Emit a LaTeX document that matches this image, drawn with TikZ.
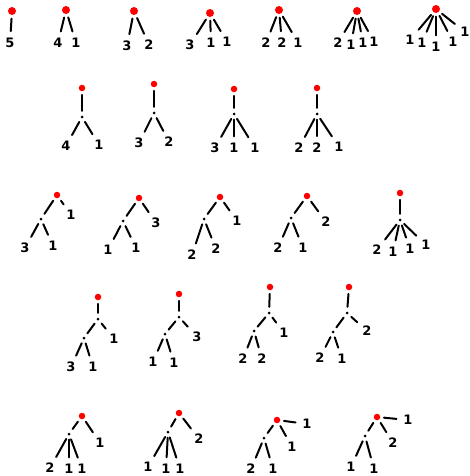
\documentclass[tikz,border=0pt]{standalone}
\usepackage{fontspec}
\newfontfamily\digitfont{DejaVu Sans}
\begin{document}
\begin{tikzpicture}[x=1pt,y=-1pt,
  rdot/.style={circle,fill=red,inner sep=0pt,minimum size=6.5pt},
  rdotbig/.style={rdot,minimum size=8pt},
  bdot/.style={circle,fill=black,inner sep=0pt,minimum size=3pt},
  lab/.style={inner sep=0.3pt,font=\digitfont\bfseries\fontsize{13}{13}\selectfont},
  edge/.style={line width=2pt,line cap=round},
  rl/.style={edge,shorten <=3.5pt,shorten >=6.5pt},
  rb/.style={edge,shorten <=3.5pt,shorten >=4.5pt},
  bl/.style={edge,shorten <=4pt,shorten >=6.5pt},
  bb/.style={edge,shorten <=4pt,shorten >=4pt}]
\useasboundingbox (0,0) rectangle (469,476);
% ---------- row 1 ----------
\node[rdotbig] (r1) at (12,11) {};
\node[lab] (t1a) at (10,43) {5};
\draw[rl] (r1) -- (t1a);
\node[rdotbig] (r2) at (66,10) {};
\node[lab] (t2a) at (58,43) {4};
\node[lab] (t2b) at (76,43) {1};
\draw[rl] (r2) -- (t2a); \draw[rl] (r2) -- (t2b);
\node[rdotbig] (r3) at (134,11) {};
\node[lab] (t3a) at (127,46) {3};
\node[lab] (t3b) at (149,45) {2};
\draw[rl] (r3) -- (t3a); \draw[rl] (r3) -- (t3b);
\node[rdotbig] (r4) at (210,13) {};
\node[lab] (t4a) at (190,45) {3};
\node[lab] (t4b) at (211,43) {1};
\node[lab] (t4c) at (227,42) {1};
\draw[rl] (r4) -- (t4a); \draw[rl] (r4) -- (t4b); \draw[rl] (r4) -- (t4c);
\node[rdotbig] (r5) at (279,10) {};
\node[lab] (t5a) at (266,43) {2};
\node[lab] (t5b) at (282,43) {2};
\node[lab] (t5c) at (298,43) {1};
\draw[rl] (r5) -- (t5a); \draw[rl] (r5) -- (t5b); \draw[rl] (r5) -- (t5c);
\node[rdotbig] (r6) at (357,11) {};
\node[lab] (t6a) at (338,43) {2};
\node[lab] (t6b) at (351,45) {1};
\node[lab] (t6c) at (363,43) {1};
\node[lab] (t6d) at (374,42) {1};
\draw[rl] (r6) -- (t6a); \draw[rl] (r6) -- (t6b); \draw[rl] (r6) -- (t6c); \draw[rl] (r6) -- (t6d);
\node[rdotbig] (r7) at (436,9) {};
\node[lab] (t7a) at (410,40) {1};
\node[lab] (t7b) at (422,43) {1};
\node[lab] (t7c) at (436,47) {1};
\node[lab] (t7d) at (453,42) {1};
\node[lab] (t7e) at (465,32) {1};
\draw[rl] (r7) -- (t7a); \draw[rl] (r7) -- (t7b); \draw[rl] (r7) -- (t7c);
\draw[rl] (r7) -- (t7d); \draw[rl] (r7) -- (t7e);
% ---------- row 2 ----------
\node[rdot] (r8) at (82,88) {};
\node[bdot] (b8) at (82,117) {};
\node[lab] (t8a) at (66,146) {4};
\node[lab] (t8b) at (99,145) {1};
\draw[rb] (r8) -- (b8); \draw[bl] (b8) -- (t8a); \draw[bl] (b8) -- (t8b);
\node[rdot] (r9) at (154,84) {};
\node[bdot] (b9) at (154,113) {};
\node[lab] (t9a) at (139,143) {3};
\node[lab] (t9b) at (169,142) {2};
\draw[rb] (r9) -- (b9); \draw[bl] (b9) -- (t9a); \draw[bl] (b9) -- (t9b);
\node[rdot] (r10) at (234,89) {};
\node[bdot] (b10) at (234,114) {};
\node[lab] (t10a) at (215,148) {3};
\node[lab] (t10b) at (234,148) {1};
\node[lab] (t10c) at (255,148) {1};
\draw[rb] (r10) -- (b10); \draw[bl] (b10) -- (t10a); \draw[bl] (b10) -- (t10b); \draw[bl] (b10) -- (t10c);
\node[rdot] (r11) at (317,88) {};
\node[bdot] (b11) at (317,114) {};
\node[lab] (t11a) at (299,148) {2};
\node[lab] (t11b) at (317,148) {2};
\node[lab] (t11c) at (339,147) {1};
\draw[rb] (r11) -- (b11); \draw[bl] (b11) -- (t11a); \draw[bl] (b11) -- (t11b); \draw[bl] (b11) -- (t11c);
% ---------- row 3 ----------
\node[rdot] (r12) at (57,195) {};
\node[bdot] (b12) at (41,219) {};
\node[lab] (t12a) at (71,215) {1};
\node[lab] (t12b) at (25,248) {3};
\node[lab] (t12c) at (53,246) {1};
\draw[rb] (r12) -- (b12); \draw[rl] (r12) -- (t12a); \draw[bl] (b12) -- (t12b); \draw[bl] (b12) -- (t12c);
\node[rdot] (r13) at (139,198) {};
\node[bdot] (b13) at (123,221) {};
\node[lab] (t13a) at (156,223) {3};
\node[lab] (t13b) at (108,250) {1};
\node[lab] (t13c) at (136,248) {1};
\draw[rb] (r13) -- (b13); \draw[rl] (r13) -- (t13a); \draw[bl] (b13) -- (t13b); \draw[bl] (b13) -- (t13c);
\node[rdot] (r14) at (220,197) {};
\node[bdot] (b14) at (204,219) {};
\node[lab] (t14a) at (237,221) {1};
\node[lab] (t14b) at (192,255) {2};
\node[lab] (t14c) at (216,249) {2};
\draw[rb] (r14) -- (b14); \draw[rl] (r14) -- (t14a); \draw[bl] (b14) -- (t14b); \draw[bl] (b14) -- (t14c);
\node[rdot] (r15) at (307,196) {};
\node[bdot] (b15) at (291,218) {};
\node[lab] (t15a) at (326,222) {2};
\node[lab] (t15b) at (278,248) {2};
\node[lab] (t15c) at (303,248) {1};
\draw[rb] (r15) -- (b15); \draw[rl] (r15) -- (t15a); \draw[bl] (b15) -- (t15b); \draw[bl] (b15) -- (t15c);
\node[rdot] (r16) at (400,193) {};
\node[bdot] (b16) at (400,220) {};
\node[lab] (t16a) at (377,250) {2};
\node[lab] (t16b) at (393,252) {1};
\node[lab] (t16c) at (410,249) {1};
\node[lab] (t16d) at (426,245) {1};
\draw[rb] (r16) -- (b16); \draw[bl] (b16) -- (t16a); \draw[bl] (b16) -- (t16b);
\draw[bl] (b16) -- (t16c); \draw[bl] (b16) -- (t16d);
% ---------- row 4 ----------
\node[rdot] (r17) at (98,297) {};
\node[bdot] (b17a) at (98,319) {};
\node[bdot] (b17b) at (84,338) {};
\node[lab] (t17a) at (114,339) {1};
\node[lab] (t17b) at (71,367) {3};
\node[lab] (t17c) at (93,367) {1};
\draw[rb] (r17) -- (b17a); \draw[bb] (b17a) -- (b17b);
\draw[bl] (b17a) -- (t17a); \draw[bl] (b17b) -- (t17b); \draw[bl] (b17b) -- (t17c);
\node[rdot] (r18) at (179,294) {};
\node[bdot] (b18a) at (179,317) {};
\node[bdot] (b18b) at (165,334) {};
\node[lab] (t18a) at (197,337) {3};
\node[lab] (t18b) at (153,362) {1};
\node[lab] (t18c) at (174,363) {1};
\draw[rb] (r18) -- (b18a); \draw[bb] (b18a) -- (b18b);
\draw[bl] (b18a) -- (t18a); \draw[bl] (b18b) -- (t18b); \draw[bl] (b18b) -- (t18c);
\node[rdot] (r19) at (270,287) {};
\node[bdot] (b19a) at (269,313) {};
\node[bdot] (b19b) at (254,331) {};
\node[lab] (t19a) at (284,333) {1};
\node[lab] (t19b) at (243,359) {2};
\node[lab] (t19c) at (262,359) {2};
\draw[rb] (r19) -- (b19a); \draw[bb] (b19a) -- (b19b);
\draw[bl] (b19a) -- (t19a); \draw[bl] (b19b) -- (t19b); \draw[bl] (b19b) -- (t19c);
\node[rdot] (r20) at (349,287) {};
\node[bdot] (b20a) at (347,313) {};
\node[bdot] (b20b) at (333,332) {};
\node[lab] (t20a) at (367,331) {2};
\node[lab] (t20b) at (320,358) {2};
\node[lab] (t20c) at (342,359) {1};
\draw[rb] (r20) -- (b20a); \draw[bb] (b20a) -- (b20b);
\draw[bl] (b20a) -- (t20a); \draw[bl] (b20b) -- (t20b); \draw[bl] (b20b) -- (t20c);
% ---------- row 5 ----------
\node[rdot] (r21) at (82,416) {};
\node[bdot] (b21) at (69,434) {};
\node[lab] (t21a) at (100,443) {1};
\node[lab] (t21b) at (50,468) {2};
\node[lab] (t21c) at (69,469) {1};
\node[lab] (t21d) at (82,469) {1};
\draw[rb] (r21) -- (b21); \draw[rl] (r21) -- (t21a);
\draw[bl] (b21) -- (t21b); \draw[bl] (b21) -- (t21c); \draw[bl] (b21) -- (t21d);
\node[rdot] (r22) at (179,413) {};
\node[bdot] (b22) at (168,432) {};
\node[lab] (t22a) at (199,439) {2};
\node[lab] (t22b) at (148,467) {1};
\node[lab] (t22c) at (166,469) {1};
\node[lab] (t22d) at (180,469) {1};
\draw[rb] (r22) -- (b22); \draw[rl] (r22) -- (t22a);
\draw[bl] (b22) -- (t22b); \draw[bl] (b22) -- (t22c); \draw[bl] (b22) -- (t22d);
\node[rdot] (r23) at (277,420) {};
\node[bdot] (b23) at (264,438) {};
\node[lab] (t23a) at (292,447) {1};
\node[lab] (t23b) at (307,424) {1};
\node[lab] (t23c) at (251,469) {2};
\node[lab] (t23d) at (273,469) {1};
\draw[rb] (r23) -- (b23); \draw[rl] (r23) -- (t23a); \draw[rl] (r23) -- (t23b);
\draw[bl] (b23) -- (t23c); \draw[bl] (b23) -- (t23d);
\node[rdot] (r24) at (377,417) {};
\node[bdot] (b24) at (365,436) {};
\node[lab] (t24a) at (393,443) {2};
\node[lab] (t24b) at (408,420) {1};
\node[lab] (t24c) at (351,467) {1};
\node[lab] (t24d) at (374,469) {1};
\draw[rb] (r24) -- (b24); \draw[rl] (r24) -- (t24a); \draw[rl] (r24) -- (t24b);
\draw[bl] (b24) -- (t24c); \draw[bl] (b24) -- (t24d);
\end{tikzpicture}
\end{document}
